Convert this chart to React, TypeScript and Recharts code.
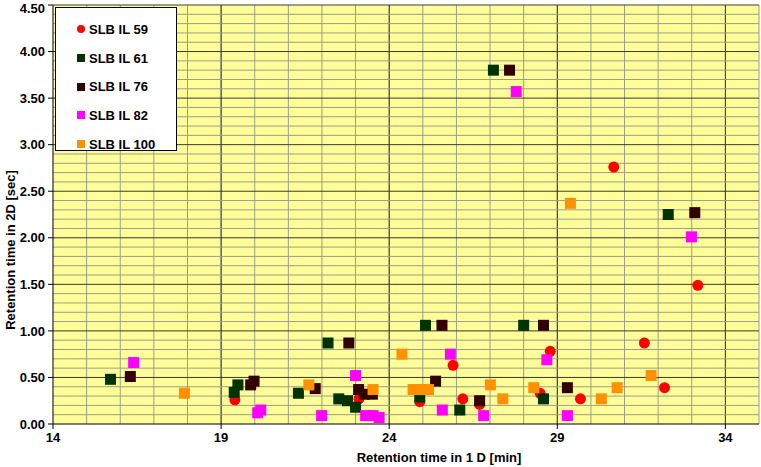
import React from "react";
import {
  ScatterChart, Scatter, XAxis, YAxis, CartesianGrid, Legend, ReferenceLine,
} from "recharts";

// [retention 1D (min), retention 2D (sec)]
const il59: [number, number][] = [
  [19.41, 0.26], [23.1, 0.27], [24.91, 0.24], [25.9, 0.63], [26.19, 0.27],
  [26.69, 0.21], [28.49, 0.33], [28.79, 0.78], [29.69, 0.27], [30.68, 2.76],
  [31.59, 0.87], [32.19, 0.39], [33.18, 1.49],
];
const il61: [number, number][] = [
  [15.71, 0.48], [19.39, 0.34], [19.5, 0.42], [21.3, 0.33], [22.18, 0.87],
  [22.5, 0.27], [22.76, 0.25], [23.0, 0.18], [24.91, 0.29], [25.08, 1.06],
  [26.1, 0.15], [27.1, 3.8], [28.0, 1.06], [28.59, 0.27], [32.3, 2.25],
];
const il76: [number, number][] = [
  [16.3, 0.51], [19.88, 0.42], [19.98, 0.46], [21.8, 0.38], [22.8, 0.87],
  [23.09, 0.37], [23.26, 0.32], [23.5, 0.32], [25.38, 0.46], [25.57, 1.06],
  [26.69, 0.25], [27.58, 3.8], [28.59, 1.06], [29.3, 0.39], [33.09, 2.27],
];
const il82: [number, number][] = [
  [16.4, 0.66], [20.09, 0.12], [20.18, 0.15], [21.99, 0.09], [23.0, 0.52],
  [23.3, 0.09], [23.52, 0.09], [23.7, 0.07], [25.58, 0.15], [25.82, 0.75],
  [26.81, 0.09], [27.78, 3.57], [28.69, 0.69], [29.3, 0.09], [32.99, 2.01],
];
const il100: [number, number][] = [
  [17.91, 0.33], [21.61, 0.42], [23.52, 0.37], [24.38, 0.75], [24.71, 0.37],
  [24.96, 0.37], [25.17, 0.37], [27.01, 0.42], [27.38, 0.27], [28.3, 0.39],
  [29.39, 2.37], [30.31, 0.27], [30.78, 0.39], [31.79, 0.52],
];

const xTicks = [14, 19, 24, 29, 34];
const yTicks = [0, 0.5, 1, 1.5, 2, 2.5, 3, 3.5, 4, 4.5];

const series = [
  { name: "SLB IL 59", data: il59, color: "#ff0000", round: true },
  { name: "SLB IL 61", data: il61, color: "#003300", round: false },
  { name: "SLB IL 76", data: il76, color: "#330000", round: false },
  { name: "SLB IL 82", data: il82, color: "#ff00ff", round: false },
  { name: "SLB IL 100", data: il100, color: "#ff9000", round: false },
];

const font = "'Liberation Sans', Arial, sans-serif";
const tickStyle = { fontSize: 13, fontWeight: 700, fill: "#000", fontFamily: font };

// grid helpers (styling only)
const minorH = Array.from({ length: 44 }, (_, i) => +(i * 0.1 + 0.1).toFixed(1))
  .filter((v) => Math.round(v * 10) % 5 !== 0);
const minorV = Array.from({ length: 21 }, (_, i) => 15 + i);
const majorV = [19, 24, 29, 34];
const majorH = [0.5, 1, 1.5, 2, 2.5, 3, 3.5, 4, 4.5];

const square = (color: string) => (p: any) => (
  <rect x={p.cx - 5.5} y={p.cy - 5.5} width={11} height={11} fill={color} />
);
const dot = (color: string) => (p: any) => (
  <circle cx={p.cx} cy={p.cy} r={5.5} fill={color} />
);

function LegendBox() {
  return (
    <div style={{
      width: 122, height: 144, background: "#fff", border: "1px solid #000",
      fontFamily: font, fontWeight: 700, fontSize: 13, paddingTop: 7, boxSizing: "border-box",
    }}>
      {series.map((s) => (
        <div key={s.name} style={{ display: "flex", alignItems: "center", height: 28.7 }}>
          <span style={{
            display: "inline-block", width: 8, height: 8, marginLeft: 21, marginRight: 4,
            background: s.color, borderRadius: s.round ? "50%" : 0,
          }} />
          <span>{s.name}</span>
        </div>
      ))}
    </div>
  );
}

export default function App() {
  return (
    <div style={{ position: "absolute", left: 0, top: 0, background: "#fff" }}>
      <ScatterChart width={761} height={467} margin={{ top: 5, right: 2, left: 0, bottom: 0 }}>
        <CartesianGrid
          horizontal={false} verticalValues={minorV}
          stroke="#9c9c8a" strokeWidth={1} fill="#ffff99"
        />
        {minorH.map((v) => (
          <ReferenceLine key={v} y={v} stroke="#9c9c8a" strokeWidth={1} />
        ))}
        <CartesianGrid
          horizontalValues={majorH} verticalValues={majorV}
          stroke="#3a3a30" strokeWidth={1} fill="none"
        />
        <XAxis
          type="number" dataKey="0" domain={[14, 35]} ticks={xTicks}
          allowDataOverflow height={43}
          tick={tickStyle} tickSize={5} tickMargin={4}
          stroke="#000"
          label={() => (
            <text x={439} y={462} textAnchor="middle" fontFamily={font}
              fontWeight={700} fontSize={13} fill="#000">
              Retention time  in 1 D [min]
            </text>
          )}
        />
        <YAxis
          type="number" dataKey="1" domain={[0, 4.5]} ticks={yTicks}
          allowDataOverflow width={53}
          tick={tickStyle} tickSize={5} tickMargin={3}
          tickFormatter={(v: number) => v.toFixed(2)}
          stroke="#000"
          label={() => (
            <text x={15} y={250} transform="rotate(-90 15 250)" textAnchor="middle"
              fontFamily={font} fontWeight={700} fontSize={13} fill="#000">
              Retention time in 2D  [sec]
            </text>
          )}
        />
        <Legend
          layout="vertical" align="center" verticalAlign="middle"
          wrapperStyle={{ left: 55, top: 7, width: 122, height: 144 }}
          content={() => <LegendBox />}
        />
        {series.map((s) => (
          <Scatter
            key={s.name} name={s.name} data={s.data} fill={s.color}
            shape={s.round ? dot(s.color) : square(s.color)}
            isAnimationActive={false}
          />
        ))}
      </ScatterChart>
    </div>
  );
}
